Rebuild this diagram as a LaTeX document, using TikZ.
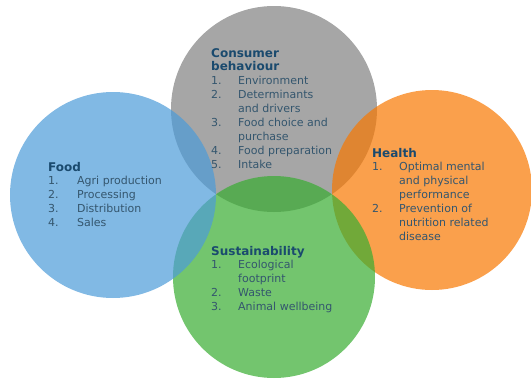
\documentclass[tikz,border=0pt]{standalone}
\usepackage{fontspec}
\setmainfont{DejaVu Sans}
\definecolor{cgray}{RGB}{166,166,166}
\definecolor{cblue}{RGB}{76,155,216}
\definecolor{corange}{RGB}{248,119,0}
\definecolor{cgreen}{RGB}{55,173,48}
\definecolor{ttl}{RGB}{26,74,110}
\definecolor{itm}{RGB}{52,86,110}
\newcommand{\ttlf}{\fontsize{12}{13.9}\selectfont\bfseries\color{ttl}}
\newcommand{\itmf}{\fontsize{11}{13.9}\selectfont}
\begin{document}
\begin{tikzpicture}[x=1pt,y=-1pt,
  circ/.style={circle, draw=none, inner sep=0pt, fill opacity=0.7},
  blocktext/.style={anchor=base west, inner sep=0pt, text=itm, font=\itmf}]
\useasboundingbox (0,0) rectangle (531,381);
% circles: gray at the bottom, then orange, green, blue
\node[circ, fill=cgray, fill opacity=1, minimum size=206pt] (cgrayc) at (274,109) {};
\node[circ, fill=corange, minimum size=200pt] (corangec) at (432,190) {};
\node[circ, fill=cgreen, minimum size=202pt] (cgreenc) at (274,277) {};
\node[circ, fill=cblue, minimum size=206pt] (cbluec) at (113,195) {};
% texts
\node[blocktext] (consumer) at (211,57) {\begin{tabular}[t]{@{}p{27pt}@{}l@{}}
\multicolumn{2}{@{}l@{}}{\ttlf Consumer}\\
\multicolumn{2}{@{}l@{}}{\ttlf behaviour}\\
1. & Environment\\
2. & Determinants\\
   & and drivers\\
3. & Food choice and\\
   & purchase\\
4. & Food preparation\\
5. & Intake
\end{tabular}};
\node[blocktext] (food) at (48,171) {\begin{tabular}[t]{@{}p{29pt}@{}l@{}}
\multicolumn{2}{@{}l@{}}{\ttlf Food}\\
1. & Agri production\\
2. & Processing\\
3. & Distribution\\
4. & Sales
\end{tabular}};
\node[blocktext] (health) at (372,157) {\begin{tabular}[t]{@{}p{27pt}@{}l@{}}
\multicolumn{2}{@{}l@{}}{\ttlf Health}\\
1. & Optimal mental\\
   & and physical\\
   & performance\\
2. & Prevention of\\
   & nutrition related\\
   & disease
\end{tabular}};
\node[blocktext] (sustain) at (211,255) {\begin{tabular}[t]{@{}p{27pt}@{}l@{}}
\multicolumn{2}{@{}l@{}}{\ttlf Sustainability}\\
1. & Ecological\\
   & footprint\\
2. & Waste\\
3. & Animal wellbeing
\end{tabular}};
\end{tikzpicture}
\end{document}
